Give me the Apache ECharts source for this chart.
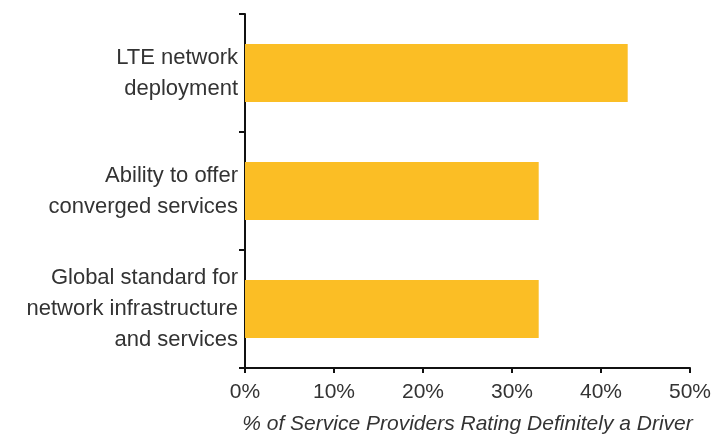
<!DOCTYPE html>
<html>
<head>
<meta charset="utf-8">
<script src="https://cdn.jsdelivr.net/npm/echarts@6/dist/echarts.min.js"></script>
<style>
  html, body { margin: 0; padding: 0; background: #fff; }
  #chart { width: 713px; height: 437px; }
</style>
</head>
<body>
<div id="chart"></div>
<script>
// 数据
var categories = [
  'Global standard for\nnetwork infrastructure\nand services',
  'Ability to offer\nconverged services',
  'LTE network\ndeployment'
];
var values = [33, 33, 43];
var tickMax = 50;

var myChart = echarts.init(document.getElementById('chart'));
myChart.setOption({
  animation: false,
  textStyle: { fontFamily: 'Liberation Sans, Arial, sans-serif' },
  grid: { left: 245, right: 23, top: 14, bottom: 69, outerBoundsMode: 'none' },
  xAxis: {
    type: 'value',
    min: 0,
    max: tickMax,
    interval: 10,
    name: '% of Service Providers Rating Definitely a Driver',
    nameLocation: 'middle',
    nameGap: 46,
    nameTextStyle: { fontStyle: 'italic', fontSize: 21, color: '#333' },
    axisLine: { show: true, lineStyle: { color: '#111', width: 2 } },
    axisTick: { show: true, length: 5, lineStyle: { color: '#111', width: 2 } },
    axisLabel: { formatter: '{value}%', fontSize: 21, color: '#333', margin: 14 },
    splitLine: { show: false }
  },
  yAxis: {
    type: 'category',
    data: categories,
    axisLine: { show: true, lineStyle: { color: '#111', width: 2 } },
    axisTick: { show: true, length: 6, lineStyle: { color: '#111', width: 2 } },
    axisLabel: { fontSize: 22, color: '#333', lineHeight: 31, align: 'right', margin: 7 }
  },
  series: [{
    type: 'bar',
    data: values,
    barWidth: '49%',
    itemStyle: { color: '#FBBE25' }
  }]
});
</script>
</body>
</html>
